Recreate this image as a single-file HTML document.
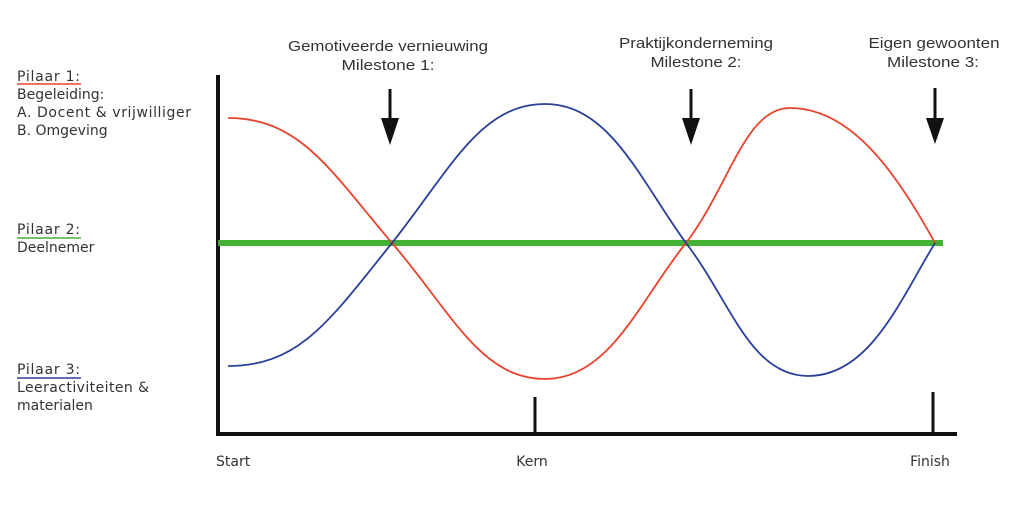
<!DOCTYPE html>
<html><head><meta charset="utf-8"><style>
body{margin:0;background:#fff}
svg text{font-family:"DejaVu Sans","Liberation Sans",sans-serif;fill:#333}
svg text.n{font-family:"Liberation Sans",sans-serif}
</style></head><body>
<svg width="1024" height="507" viewBox="0 0 1024 507" xmlns="http://www.w3.org/2000/svg">
<g font-size="14">
<text x="17" y="81" textLength="63">Pilaar 1:</text>
<line x1="17" y1="84" x2="81" y2="84" stroke="#e8432c" stroke-width="1.5"/>
<text x="17" y="99">Begeleiding:</text>
<text x="17" y="117" textLength="174">A. Docent &amp; vrijwilliger</text>
<text x="17" y="135">B. Omgeving</text>
<text x="17" y="234" textLength="63">Pilaar 2:</text>
<line x1="17" y1="238" x2="81" y2="238" stroke="#44b035" stroke-width="1.5"/>
<text x="17" y="252">Deelnemer</text>
<text x="17" y="374" textLength="63">Pilaar 3:</text>
<line x1="17" y1="378" x2="81" y2="378" stroke="#2c3f98" stroke-width="1.5"/>
<text x="17" y="392" textLength="132">Leeractiviteiten &amp;</text>
<text x="17" y="410">materialen</text>
</g>
<g font-size="15" text-anchor="middle">
<text class="n" x="388" y="51" textLength="200" lengthAdjust="spacingAndGlyphs">Gemotiveerde vernieuwing</text>
<text class="n" x="388" y="70" textLength="93" lengthAdjust="spacingAndGlyphs">Milestone 1:</text>
<text class="n" x="696" y="48" textLength="154" lengthAdjust="spacingAndGlyphs">Praktijkonderneming</text>
<text class="n" x="696" y="67" textLength="91" lengthAdjust="spacingAndGlyphs">Milestone 2:</text>
<text class="n" x="934" y="48" textLength="131" lengthAdjust="spacingAndGlyphs">Eigen gewoonten</text>
<text class="n" x="933" y="67" textLength="92" lengthAdjust="spacingAndGlyphs">Milestone 3:</text>
</g>
<g stroke="#111" stroke-width="3">
<line x1="390" y1="89" x2="390" y2="125"/>
<line x1="691" y1="89" x2="691" y2="125"/>
<line x1="935" y1="88" x2="935" y2="125"/>
</g>
<g fill="#111">
<polygon points="381,118 399,118 390,145"/>
<polygon points="682,118 700,118 691,145"/>
<polygon points="926,118 944,118 935,144"/>
</g>
<line x1="218" y1="75" x2="218" y2="436" stroke="#111" stroke-width="4"/>
<line x1="216" y1="434" x2="957" y2="434" stroke="#111" stroke-width="4"/>
<line x1="535" y1="397" x2="535" y2="433" stroke="#111" stroke-width="3"/>
<line x1="933" y1="392" x2="933" y2="433" stroke="#111" stroke-width="3"/>
<line x1="218" y1="243" x2="943" y2="243" stroke="#44b035" stroke-width="6"/>
<path d="M228,118 C300,118 330,170 392,243 C450,310 480,379 545,379 C610,379 640,300 686,243 C730,185 745,108 790,108 C850,108 895,170 935,243" fill="none" stroke="#e8432c" stroke-width="1.8"/>
<path d="M228,366 C300,366 330,320 392,243 C450,170 480,104 545,104 C610,104 640,180 686,243 C730,300 750,376 808,376 C870,376 900,300 935,243" fill="none" stroke="#2c3f98" stroke-width="1.8"/>
<g font-size="14">
<text x="216" y="466">Start</text>
<text x="532" y="466" text-anchor="middle">Kern</text>
<text x="930" y="466" text-anchor="middle">Finish</text>
</g>
</svg>
</body></html>
